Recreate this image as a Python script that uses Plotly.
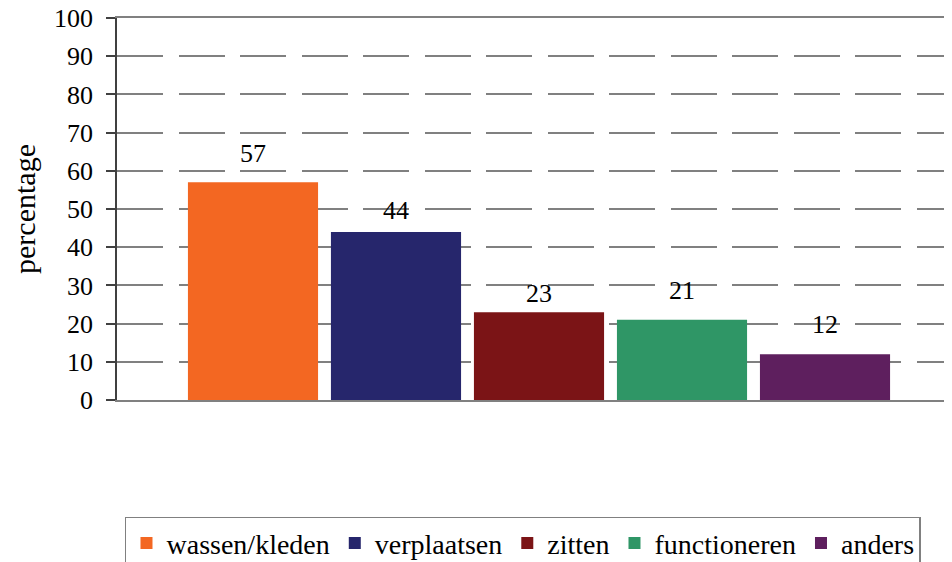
import plotly.graph_objects as go

categories = ["wassen/kleden", "verplaatsen", "zitten", "functioneren", "anders"]
values = [57, 44, 23, 21, 12]
colors = ["#F36722", "#26266C", "#7B1416", "#2F9666", "#5E1F5E"]
label_shift = [29, 21, 19, 29, 30]
y_ticks = [0, 10, 20, 30, 40, 50, 60, 70, 80, 90, 100]

FONT = "Liberation Serif"
FS = 26

fig = go.Figure()
for cat, val, col in zip(categories, values, colors):
    fig.add_trace(go.Bar(x=[cat], y=[val], name=cat, marker=dict(color=col, line=dict(width=0))))

for cat, val, sh in zip(categories, values, label_shift):
    fig.add_annotation(x=cat, y=val, text=str(val), showarrow=False, yshift=sh,
                       font=dict(family=FONT, size=FS, color="black"))

fig.update_layout(
    width=952, height=562,
    margin=dict(l=109, r=0, t=10, b=170, autoexpand=False),
    paper_bgcolor="white", plot_bgcolor="white",
    barmode="relative", bargap=0.09,
    font=dict(family=FONT, size=FS, color="black"),
    showlegend=True,
    legend=dict(orientation="h", x=0.4816, xanchor="center", y=-0.306, yanchor="top",
                bordercolor="#808080", borderwidth=1.5, bgcolor="white",
                font=dict(family=FONT, size=28, color="black"),
                tracegroupgap=0),
)
fig.update_xaxes(type="category", range=[-0.951, 4.944], showticklabels=False,
                 showgrid=False, showline=True, linecolor="#808080", linewidth=2,
                 mirror=True, ticks="", zeroline=False)
fig.update_yaxes(range=[0, 100], tickvals=y_ticks, ticks="outside", ticklen=9,
                 tickcolor="#404040", tickwidth=1.5, showline=True, linecolor="#404040",
                 linewidth=1.5, showgrid=True, gridcolor="#808080", gridwidth=1.5,
                 griddash="46px,15.5px", zeroline=False, ticklabelstandoff=8,
                 ticklabeloverflow="allow",
                 tickfont=dict(family=FONT, size=FS, color="black"),
                 title=dict(text="percentage", font=dict(family=FONT, size=30, color="black"), standoff=25))

fig.write_html("out.html")
